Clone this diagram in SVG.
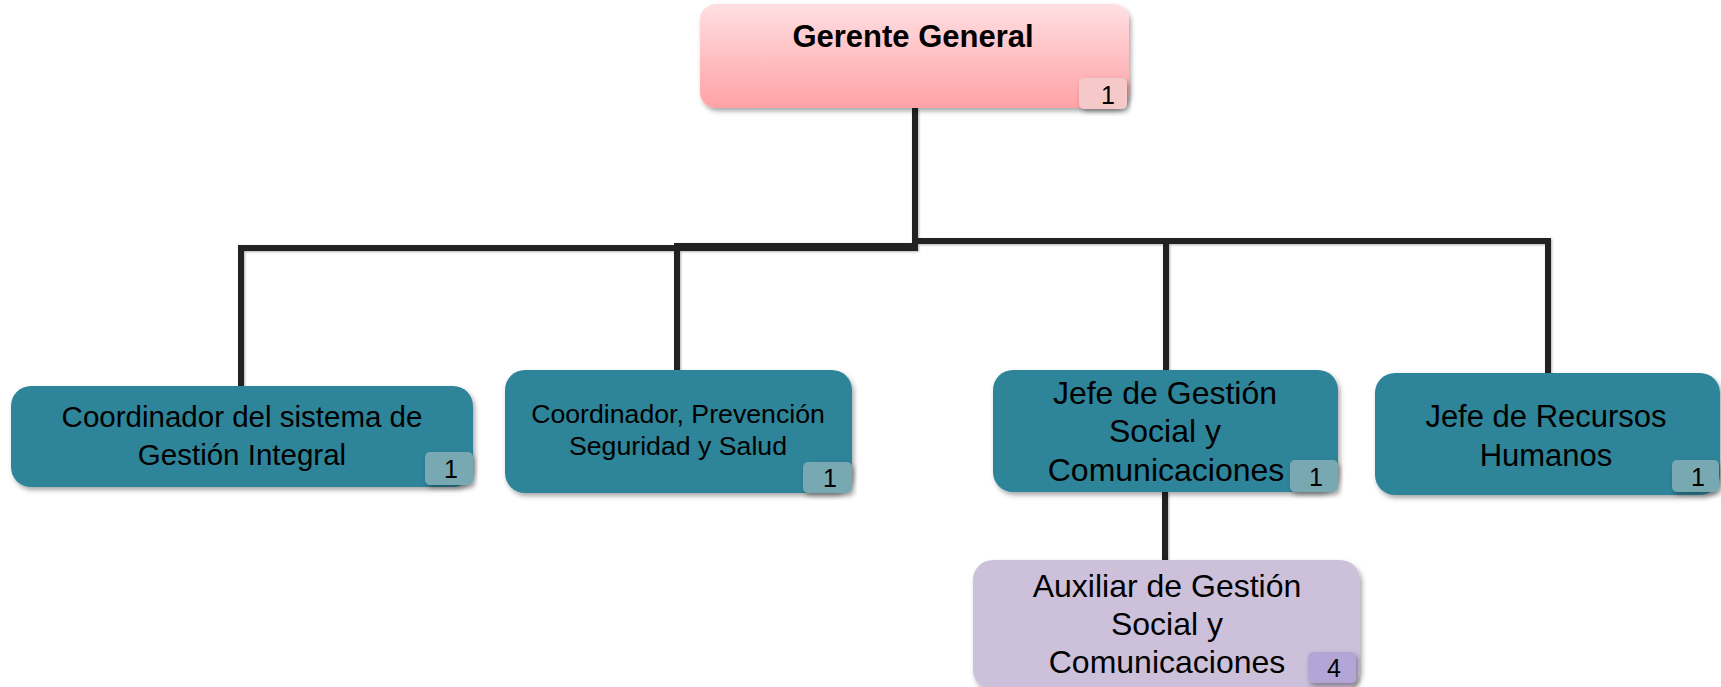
<svg xmlns="http://www.w3.org/2000/svg" width="1721" height="687" viewBox="0 0 1721 687">
<defs>
<linearGradient id="pink" x1="0" y1="0" x2="0" y2="1">
<stop offset="0" stop-color="#ffdfe2"/>
<stop offset="1" stop-color="#ffa2a6"/>
</linearGradient>
<filter id="sh" x="-10%" y="-10%" width="120%" height="130%">
<feDropShadow dx="2" dy="3" stdDeviation="2.5" flood-color="#000" flood-opacity="0.35"/>
</filter>
<filter id="lsh" x="-10%" y="-10%" width="120%" height="120%">
<feDropShadow dx="1" dy="1" stdDeviation="1" flood-color="#000" flood-opacity="0.3"/>
</filter>
</defs>
<style>
.teal{fill:#2e8499}
.tbadge{fill:#78a8b2}
.lbl{font-family:"Liberation Sans",Arial,sans-serif;font-size:29.5px;fill:#000;text-anchor:middle}
.sm{font-size:26.7px}
.big{font-size:32px}
.mid{font-size:31px}
.num{font-family:"Liberation Sans",Arial,sans-serif;font-size:25px;fill:#000;text-anchor:middle}
.conn{fill:none;stroke:#222;stroke-width:6;stroke-linejoin:miter}
</style>
<rect width="1721" height="687" fill="#fff"/>
<g id="connectors" filter="url(#lsh)">
<path class="conn" d="M915 108 V248 H241 V386"/>
<path class="conn" d="M915 108 V246 H677 V370"/>
<path class="conn" d="M915 108 V241 H1166 V370"/>
<path class="conn" d="M915 108 V241 H1548 V373"/>
<path class="conn" d="M1165 492 V560"/>
</g>
<g id="gerente">
<rect x="700" y="4" width="429" height="104" rx="16" fill="url(#pink)" filter="url(#sh)"/>
<text class="lbl" x="913" y="47" style="font-weight:bold;font-size:31px">Gerente General</text>
<rect x="1079" y="78" width="48" height="31" rx="5" fill="#f5c9c9" filter="url(#sh)"/>
<text class="num" x="1108" y="104">1</text>
</g>
<g id="coord-sgi">
<rect class="teal" x="11" y="386" width="462" height="101" rx="20" filter="url(#sh)"/>
<text class="lbl" x="242" y="427">Coordinador del sistema de</text>
<text class="lbl" x="242" y="465">Gestión Integral</text>
<rect class="tbadge" x="425" y="452" width="48" height="33" rx="5" filter="url(#sh)"/>
<text class="num" x="451" y="478">1</text>
</g>
<g id="coord-pss">
<rect class="teal" x="505" y="370" width="347" height="123" rx="20" filter="url(#sh)"/>
<text class="lbl sm" x="678" y="423">Coordinador, Prevención</text>
<text class="lbl sm" x="678" y="455">Seguridad y Salud</text>
<rect class="tbadge" x="803" y="462" width="49" height="31" rx="5" filter="url(#sh)"/>
<text class="num" x="830" y="487">1</text>
</g>
<g id="jefe-gsc">
<rect class="teal" x="993" y="370" width="345" height="122" rx="20" filter="url(#sh)"/>
<text class="lbl big" x="1165" y="404">Jefe de Gestión</text>
<text class="lbl big" x="1165" y="442">Social y</text>
<text class="lbl big" x="1166" y="481">Comunicaciones</text>
<rect class="tbadge" x="1290" y="460" width="48" height="32" rx="5" filter="url(#sh)"/>
<text class="num" x="1316" y="486">1</text>
</g>
<g id="jefe-rrhh">
<rect class="teal" x="1375" y="373" width="345" height="122" rx="20" filter="url(#sh)"/>
<text class="lbl mid" x="1546" y="427">Jefe de Recursos</text>
<text class="lbl mid" x="1546" y="466">Humanos</text>
<rect class="tbadge" x="1672" y="460" width="47" height="32" rx="5" filter="url(#sh)"/>
<text class="num" x="1698" y="486">1</text>
</g>
<g id="auxiliar">
<rect x="973" y="560" width="387" height="130" rx="20" fill="#ccc0da" filter="url(#sh)"/>
<text class="lbl big" x="1167" y="597">Auxiliar de Gestión</text>
<text class="lbl big" x="1167" y="635">Social y</text>
<text class="lbl big" x="1167" y="673">Comunicaciones</text>
<rect x="1308" y="652" width="48" height="31" rx="5" fill="#b3a6d6" filter="url(#sh)"/>
<text class="num" x="1334" y="677">4</text>
</g>
</svg>
